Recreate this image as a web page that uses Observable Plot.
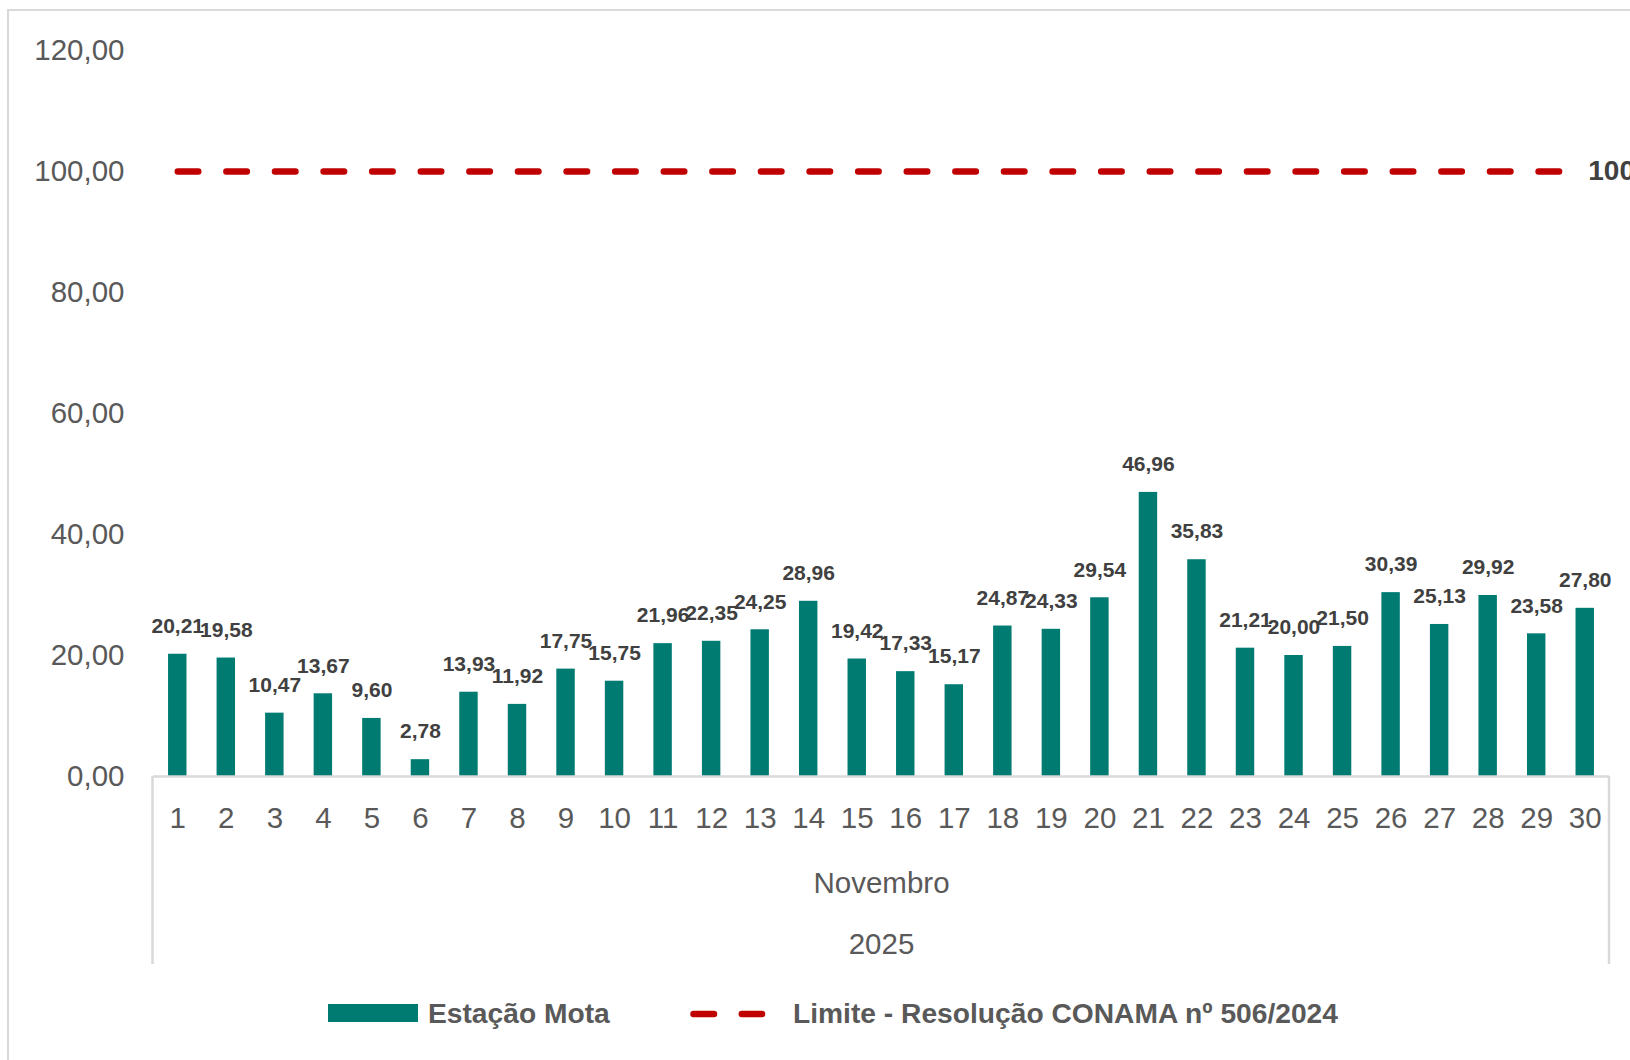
<!DOCTYPE html>
<html>
<head>
<meta charset="utf-8">
<script src="https://cdn.jsdelivr.net/npm/d3@7"></script>
<script src="https://cdn.jsdelivr.net/npm/@observablehq/plot@0.6"></script>
<style>
  html, body { margin: 0; padding: 0; background: #fff; overflow: hidden; width: 1630px; height: 1060px; }
  #wrap { position: relative; width: 1630px; height: 1060px; overflow: hidden; font-family: "Liberation Sans", Arial, sans-serif; }
  #border { position: absolute; left: 7px; top: 9px; width: 1700px; height: 1200px; border: 2.5px solid #d9d9d9; box-sizing: border-box; }
  #chart { position: absolute; left: 0; top: 0; }
  .lg { position: absolute; font-size: 28.2px; font-weight: bold; color: #595959; line-height: 28px; white-space: nowrap; }
</style>
</head>
<body>
<div id="wrap">
  <div id="border"></div>
  <div id="chart"></div>
  <div id="legend"></div>
</div>
<script>
const days = [1,2,3,4,5,6,7,8,9,10,11,12,13,14,15,16,17,18,19,20,21,22,23,24,25,26,27,28,29,30];
const values = [20.21,19.58,10.47,13.67,9.60,2.78,13.93,11.92,17.75,15.75,21.96,22.35,24.25,28.96,19.42,17.33,15.17,24.87,24.33,29.54,46.96,35.83,21.21,20.00,21.50,30.39,25.13,29.92,23.58,27.80];
const limits = [100,100,100,100,100,100,100,100,100,100,100,100,100,100,100,100,100,100,100,100,100,100,100,100,100,100,100,100,100,100];
const yTicks = [0,20,40,60,80,100,120];
const monthLabel = ["Novembro"];
const yearLabel = ["2025"];
const seriesNames = ["Estação Mota", "Limite - Resolução CONAMA nº 506/2024"];

const barColor = "#007B72";
const lineColor = "#C00000";
const axisColor = "#d9d9d9";

const locale = d3.formatLocale({decimal: ",", thousands: ".", grouping: [3], currency: ["R$", ""]});
const fmt = locale.format(".2f");

const table = days.map((d, i) => ({day: d, value: values[i], limit: limits[i]}));

const sideLines = (index, scales, values, dimensions) => {
  const {width, height, marginLeft, marginRight, marginBottom} = dimensions;
  const g = d3.create("svg:g");
  const y0 = height - marginBottom;
  for (const x of [marginLeft - 0.5, width - marginRight]) {
    g.append("line").attr("x1", x).attr("x2", x).attr("y1", y0).attr("y2", y0 + 188)
      .attr("stroke", axisColor).attr("stroke-width", 2.5);
  }
  return g.node();
};

const axisFont = 29.5;

const plot = Plot.plot({
  width: 1630,
  height: 975,
  marginLeft: 153,
  marginRight: 21,
  marginTop: 50,
  marginBottom: 199,
  style: {fontFamily: "'Liberation Sans', Arial, sans-serif", background: "transparent", overflow: "visible"},
  x: {type: "band", domain: days, paddingInner: 0.62, paddingOuter: 0.31, round: false, label: null},
  y: {domain: [0, 120], label: null},
  marks: [
    Plot.axisY({ticks: yTicks, tickSize: 0, tickPadding: 29, tickFormat: fmt, fontSize: axisFont, fill: "#595959", label: null}),
    Plot.axisX({tickSize: 0, tickPadding: 31, fontSize: axisFont, fill: "#595959", label: null}),
    Plot.barY(table, {x: "day", y: "value", fill: barColor}),
    Plot.ruleY([0], {stroke: axisColor, strokeWidth: 2.5}),
    sideLines,
    Plot.lineY(table, {x: "day", y: "limit", stroke: lineColor, strokeWidth: 6.5, strokeDasharray: "20.5,28.1", strokeLinecap: "round"}),
    Plot.text(table, {x: "day", y: "value", text: d => fmt(d.value), dy: -28, fontSize: 21, fontWeight: "bold", fill: "#404040"}),
    Plot.text(table.slice(-1), {x: "day", y: "limit", text: d => fmt(d.limit), textAnchor: "start", dx: 3, fontSize: 28, fontWeight: "bold", fill: "#404040"}),
    Plot.text(monthLabel, {text: d => d, frameAnchor: "bottom", dy: 116, fontSize: axisFont, fill: "#595959"}),
    Plot.text(yearLabel, {text: d => d, frameAnchor: "bottom", dy: 177.5, fontSize: axisFont, fill: "#595959"})
  ]
});
document.getElementById("chart").appendChild(plot);

// Legend
const lg = document.getElementById("legend");
const sw1 = document.createElement("div");
Object.assign(sw1.style, {position: "absolute", left: "328px", top: "1004px", width: "90px", height: "18px", background: barColor});
lg.appendChild(sw1);
const t1 = document.createElement("div");
t1.className = "lg"; t1.textContent = seriesNames[0];
Object.assign(t1.style, {left: "428px", top: "999px"});
lg.appendChild(t1);
const sw2 = d3.create("svg").attr("width", 90).attr("height", 20)
  .style("position", "absolute").style("left", "684px").style("top", "1004px");
sw2.append("line").attr("x1", 9.5).attr("x2", 78).attr("y1", 10).attr("y2", 10)
  .attr("stroke", lineColor).attr("stroke-width", 6.5).attr("stroke-linecap", "round")
  .attr("stroke-dasharray", "20.5,27.8");
lg.appendChild(sw2.node());
const t2 = document.createElement("div");
t2.className = "lg"; t2.textContent = seriesNames[1];
Object.assign(t2.style, {left: "793px", top: "999px"});
lg.appendChild(t2);
</script>
</body>
</html>
